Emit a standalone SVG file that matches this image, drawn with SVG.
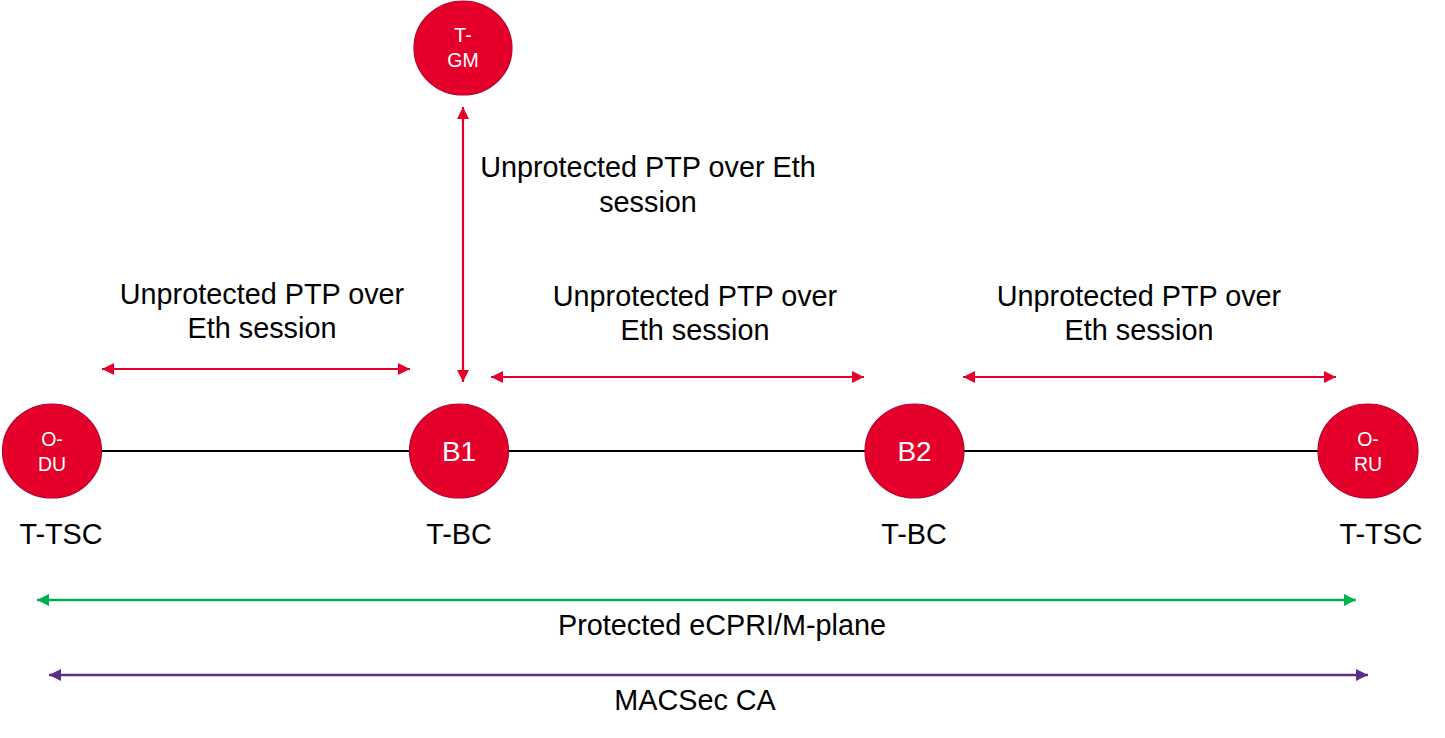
<svg xmlns="http://www.w3.org/2000/svg" width="1445" height="738" viewBox="0 0 1445 738">
<style>
text{font-family:"Liberation Sans",Arial,sans-serif;text-anchor:middle}
.node{fill:#E4002B;stroke:#B8002A;stroke-width:1.2}
.nl{fill:#fff;font-size:19.5px}
.nb{fill:#fff;font-size:28px}
.lbl{fill:#000;font-size:28.8px}
.red{stroke:#E4002B;stroke-width:2.2;fill:none}
.grn{stroke:#00B050;stroke-width:2.6;fill:none}
.pur{stroke:#5B2E8C;stroke-width:2.6;fill:none}
</style>
<defs>
<marker id="ar" viewBox="0 0 12 12" refX="12" refY="6" markerWidth="12" markerHeight="12" markerUnits="userSpaceOnUse" orient="auto-start-reverse"><path d="M0,0 L12,6 L0,12 z" fill="#E4002B"/></marker>
<marker id="ag" viewBox="0 0 12 12" refX="12" refY="6" markerWidth="12" markerHeight="12" markerUnits="userSpaceOnUse" orient="auto-start-reverse"><path d="M0,0 L12,6 L0,12 z" fill="#00B050"/></marker>
<marker id="ap" viewBox="0 0 12 12" refX="12" refY="6" markerWidth="12" markerHeight="12" markerUnits="userSpaceOnUse" orient="auto-start-reverse"><path d="M0,0 L12,6 L0,12 z" fill="#5B2E8C"/></marker>
</defs>
<g id="connectors">
<line x1="101" y1="451" x2="1319" y2="451" stroke="#000" stroke-width="2"/>
<line class="red" x1="102" y1="369" x2="410" y2="369" marker-start="url(#ar)" marker-end="url(#ar)"/>
<line class="red" x1="491" y1="377" x2="864" y2="377" marker-start="url(#ar)" marker-end="url(#ar)"/>
<line class="red" x1="963" y1="377" x2="1336" y2="377" marker-start="url(#ar)" marker-end="url(#ar)"/>
<line class="red" x1="463" y1="107" x2="463" y2="382" marker-start="url(#ar)" marker-end="url(#ar)"/>
<line class="grn" x1="37" y1="600" x2="1356" y2="600" marker-start="url(#ag)" marker-end="url(#ag)"/>
<line class="pur" x1="49" y1="675" x2="1368" y2="675" marker-start="url(#ap)" marker-end="url(#ap)"/>
</g>
<g id="tgm"><ellipse class="node" cx="463" cy="48" rx="49" ry="47"/><text class="nl" x="463" y="42">T-</text><text class="nl" x="463" y="67">GM</text></g>
<g id="odu"><ellipse class="node" cx="52" cy="451" rx="49.5" ry="47"/><text class="nl" x="52" y="446">O-</text><text class="nl" x="52" y="471">DU</text></g>
<g id="b1"><ellipse class="node" cx="459" cy="451" rx="49.5" ry="47"/><text class="nb" x="459" y="461">B1</text></g>
<g id="b2"><ellipse class="node" cx="914.5" cy="451" rx="49.5" ry="47"/><text class="nb" x="914.5" y="461">B2</text></g>
<g id="oru"><ellipse class="node" cx="1368" cy="451" rx="50" ry="47"/><text class="nl" x="1368" y="446">O-</text><text class="nl" x="1368" y="471">RU</text></g>
<g id="labels">
<text class="lbl" x="61" y="544">T-TSC</text>
<text class="lbl" x="459" y="544">T-BC</text>
<text class="lbl" x="914" y="544">T-BC</text>
<text class="lbl" x="1381" y="544">T-TSC</text>
<text class="lbl" x="262" y="304">Unprotected PTP over</text>
<text class="lbl" x="262" y="338">Eth session</text>
<text class="lbl" x="695" y="306">Unprotected PTP over</text>
<text class="lbl" x="695" y="340">Eth session</text>
<text class="lbl" x="1139" y="306">Unprotected PTP over</text>
<text class="lbl" x="1139" y="340">Eth session</text>
<text class="lbl" x="648" y="177">Unprotected PTP over Eth</text>
<text class="lbl" x="648" y="212">session</text>
<text class="lbl" x="722" y="635">Protected eCPRI/M-plane</text>
<text class="lbl" x="695" y="710">MACSec CA</text>
</g>
</svg>
